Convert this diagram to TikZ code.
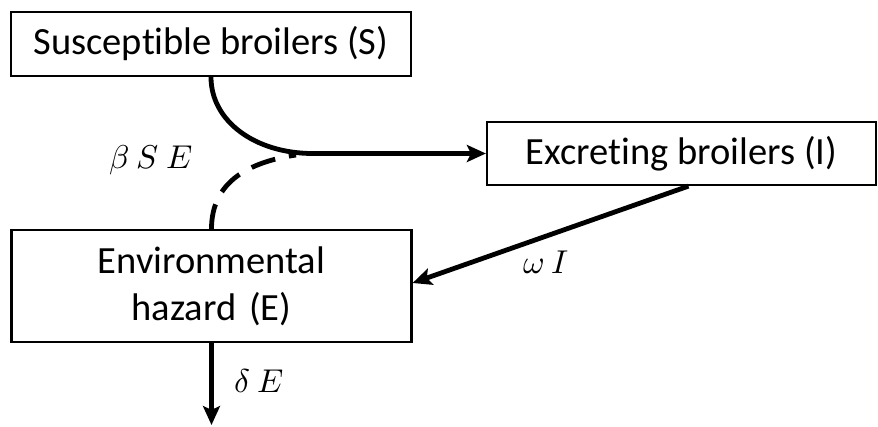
\documentclass[tikz,border=0pt]{standalone}
\usepackage{fontspec}
\usepackage{unicode-math}
\setmainfont{Carlito}[Ligatures=NoCommon]
\setmathfont{Latin Modern Math}
\usetikzlibrary{arrows.meta}
\begin{document}
\begin{tikzpicture}[x=1pt,y=-1pt,
  box/.style={draw,line width=2.2pt,inner sep=0pt,align=center,font=\fontsize{38.5}{47}\selectfont},
  flow/.style={line width=4.8pt},
  tip/.style={-{Stealth[length=19pt,width=17pt,inset=4pt]}},
  lab/.style={font=\fontsize{33}{36}\selectfont}]
\useasboundingbox (0,0) rectangle (878,426);
\node[box,minimum width=400pt,minimum height=64pt] (S) at (211,44) {Susceptible broilers (S)};
\node[box,minimum width=389pt,minimum height=63pt] (I) at (681.5,153.5) {Excreting broilers (I)};
\node[box,minimum width=400pt,minimum height=112pt,text width=380pt] (E) at (211.5,286) {Environmental\\hazard (E)};
\coordinate (J) at (313,153.5);
\coordinate (D) at (296,155);
\coordinate (out) at (211.5,425);
\draw[flow,tip] (S.south) .. controls +(0,44) and (255,153.5) .. (J) -- (I.west);
\draw[flow,dash pattern=on 25pt off 14pt] (E.north) .. controls +(0,-48) and (250,162) .. (D);
\draw[flow,tip] ([xshift=7pt]I.south) -- ([yshift=3pt]E.east);
\draw[flow,tip] (E.south) -- (out);
\node[lab] (l1) at (151,160) {$\beta\ S\ E$};
\node[lab] (l2) at (546,262) {$\omega\ I$};
\node[lab] (l3) at (259,381) {$\delta\ E$};
\end{tikzpicture}
\end{document}
